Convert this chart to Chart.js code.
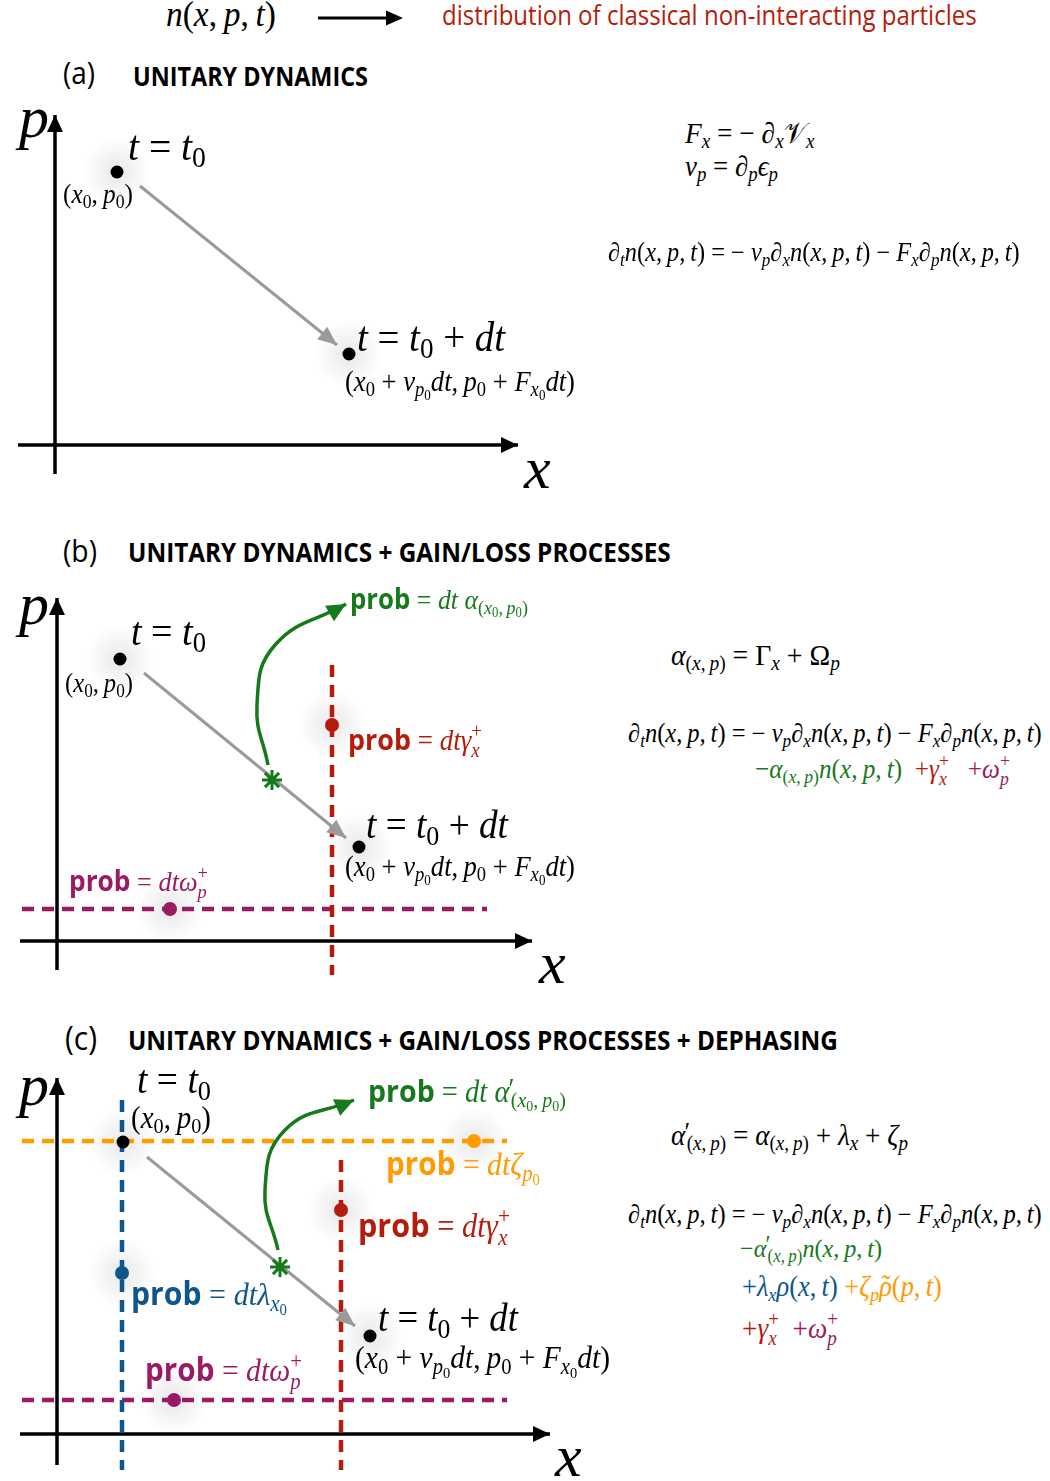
<!DOCTYPE html>
<html><head><meta charset="utf-8">
<script src="https://cdn.jsdelivr.net/npm/chart.js@4.4.0/dist/chart.umd.min.js"></script>
<style>
html,body{margin:0;padding:0;background:#fff;width:1050px;height:1481px;overflow:hidden}
#page{position:relative;width:1050px;height:1481px}
canvas{position:absolute;left:0}
.lbl{position:absolute;white-space:nowrap;line-height:1;color:#000;transform-origin:0 0}
.m{font-family:'Liberation Serif','DejaVu Serif',serif}
.m i{font-style:italic}
.s{font-family:'Open Sans','Noto Sans',sans-serif;font-style:normal}
.b{font-weight:700}
sub,sup{font-size:0.7em;line-height:0}
sub{vertical-align:-0.25em}
sup{vertical-align:0.45em}
.ss{display:inline-block;font-size:0.7em;line-height:0.95;vertical-align:-0.35em}
.ss>span{display:block}
.acc{position:relative;display:inline-block}
.acc>.tl{position:absolute;left:0.1em;top:-0.02em;font-style:normal}
.acc>.pm{position:absolute;left:0.52em;top:-0.12em;font-style:normal;font-size:0.95em}
.pmw{padding-right:0.05em}
</style></head>
<body><div id="page">
<svg style="position:absolute;left:0;top:0" width="1050" height="40"><line x1="318" y1="18" x2="390" y2="18" stroke="#000" stroke-width="3"/><polygon points="403,18 386,10.5 386,25.5" fill="#000"/></svg>
<canvas id="ca" width="620" height="400" style="top:100px"></canvas>
<canvas id="cb" width="620" height="400" style="top:585px"></canvas>
<canvas id="cc" width="620" height="416" style="top:1065px"></canvas>
</div>
<script>
// ---------- colours ----------
const BLACK='#000000', GRAY='#9a9a9a', GREEN='#16791a', RED='#b51c0b', PURPLE='#9a1a63', BLUE='#0f568a', ORANGE='#ff9a00';

// ---------- panel (a) data: phase-space coordinates (x, p) ----------
const a_xAxis = [{x:-37,y:0},{x:463,y:0}];
const a_pAxis = [{x:0,y:-29},{x:0,y:330}];
const a_start = [{x:62,y:273}];
const a_end   = [{x:294,y:91}];
const a_flow  = [{x:85,y:259},{x:282,y:100}];

// ---------- panel (b) data ----------
const b_xAxis = [{x:-37,y:0},{x:475,y:0}];
const b_pAxis = [{x:0,y:-29},{x:0,y:343}];
const b_start = [{x:63,y:282}];
const b_end   = [{x:302,y:94}];
const b_flow  = [{x:87,y:268},{x:289,y:103}];
const b_gammaLine = [{x:275,y:276},{x:275,y:-34}];
const b_gammaPt   = [{x:275,y:216}];
const b_omegaLine = [{x:-35,y:32},{x:430,y:32}];
const b_omegaPt   = [{x:113,y:32}];
const b_lossPt    = [{x:215,y:161}];
const b_lossPath  = [{x:211,y:176},{x:200,y:236},{x:218,y:296},{x:289,y:337}];

// ---------- panel (c) data ----------
const c_xAxis = [{x:-37,y:0},{x:493,y:0}];
const c_pAxis = [{x:0,y:-31},{x:0,y:356}];
const c_start = [{x:66,y:292}];
const c_end   = [{x:313,y:98}];
const c_flow  = [{x:90,y:277},{x:298,y:108}];
const c_zetaLine   = [{x:-35,y:293},{x:450,y:293}];
const c_zetaPt     = [{x:417,y:293}];
const c_lambdaLine = [{x:65,y:334},{x:65,y:-36}];
const c_lambdaPt   = [{x:65,y:161}];
const c_gammaLine  = [{x:284,y:274},{x:284,y:-36}];
const c_gammaPt    = [{x:284,y:224}];
const c_omegaLine  = [{x:-35,y:34},{x:450,y:34}];
const c_omegaPt    = [{x:117,y:34}];
const c_lossPt     = [{x:223,y:167}];
const c_lossPath   = [{x:221,y:184},{x:208,y:244},{x:228,y:304},{x:297,y:334}];

// ---------- chart builders ----------
const arrowPlugin = {
  id:'arrowHeads',
  beforeDatasetsDraw(chart){
    const ctx=chart.ctx;
    chart.data.datasets.forEach((ds,i)=>{
      if(!ds.glow) return;
      chart.getDatasetMeta(i).data.forEach(pt=>{
        const g=ctx.createRadialGradient(pt.x,pt.y,0,pt.x,pt.y,34);
        g.addColorStop(0,'rgba(0,0,0,0.09)');
        g.addColorStop(1,'rgba(0,0,0,0)');
        ctx.save();ctx.fillStyle=g;ctx.beginPath();ctx.arc(pt.x,pt.y,34,0,Math.PI*2);ctx.fill();ctx.restore();
      });
    });
  },
  afterDatasetDraw(chart,args){
    const ds=chart.data.datasets[args.index];
    if(!ds.arrowHead) return;
    const pts=args.meta.data, last=pts[pts.length-1];
    let px,py;
    if(ds.tension && last.cp1x!==undefined && (last.cp1x!==last.x||last.cp1y!==last.y)){px=last.cp1x;py=last.cp1y;}
    else {const prev=pts[pts.length-2];px=prev.x;py=prev.y;}
    const ang=Math.atan2(last.y-py,last.x-px);
    const [L,W]=ds.arrowHead;
    const ctx=chart.ctx;
    const bx=last.x-L*Math.cos(ang), by=last.y-L*Math.sin(ang);
    const nx=-Math.sin(ang)*W, ny=Math.cos(ang)*W;
    ctx.save();ctx.fillStyle=ds.borderColor;ctx.beginPath();
    ctx.moveTo(last.x,last.y);ctx.lineTo(bx+nx,by+ny);ctx.lineTo(bx-nx,by-ny);ctx.closePath();ctx.fill();ctx.restore();
  }
};

function line(data,color,width,order,extra){
  return Object.assign({data,borderColor:color,backgroundColor:color,borderWidth:width,showLine:true,pointRadius:0,order,clip:false,borderCapStyle:'butt'},extra||{});
}
function dots(data,color,r,order,extra){
  return Object.assign({data,borderColor:color,backgroundColor:color,pointRadius:r,pointBorderWidth:0,showLine:false,order,clip:false,glow:true},extra||{});
}
function panel(id,xr,yr,datasets){
  new Chart(document.getElementById(id),{
    type:'scatter',
    data:{datasets},
    options:{
      responsive:false,animation:false,devicePixelRatio:1,events:[],
      layout:{padding:0,autoPadding:false},
      plugins:{legend:{display:false},tooltip:{enabled:false}},
      scales:{
        x:{type:'linear',min:xr[0],max:xr[1],display:false},
        y:{type:'linear',min:yr[0],max:yr[1],display:false}
      }
    },
    plugins:[arrowPlugin]
  });
}
const DASH=[12,8], DW=4.5;
panel('ca',[-55,565],[-55,345],[
  dots(a_start,BLACK,6.5,0),
  dots(a_end,BLACK,6.5,0),
  line(a_flow,GRAY,3,3,{arrowHead:[19,8]}),
  line(a_xAxis,BLACK,3.5,5,{arrowHead:[17,8]}),
  line(a_pAxis,BLACK,3.5,5,{arrowHead:[17,8]})
]);
panel('cb',[-57,563],[-44,356],[
  dots(b_start,BLACK,6.5,0),
  dots(b_end,BLACK,6.5,0),
  dots(b_gammaPt,RED,7,0),
  dots(b_omegaPt,PURPLE,7,0),
  dots(b_lossPt,GREEN,10,1,{pointStyle:'star',pointBorderWidth:3,glow:false}),
  line(b_lossPath,GREEN,3.5,2,{tension:0.45,arrowHead:[19,9]}),
  line(b_flow,GRAY,3,3,{arrowHead:[19,8]}),
  line(b_gammaLine,RED,DW,4,{borderDash:DASH}),
  line(b_omegaLine,PURPLE,DW,4,{borderDash:DASH}),
  line(b_xAxis,BLACK,3.5,5,{arrowHead:[17,8]}),
  line(b_pAxis,BLACK,3.5,5,{arrowHead:[17,8]})
]);
panel('cc',[-57,563],[-47,369],[
  dots(c_start,BLACK,6.5,0),
  dots(c_end,BLACK,6.5,0),
  dots(c_zetaPt,ORANGE,7,0),
  dots(c_lambdaPt,BLUE,7,0),
  dots(c_gammaPt,RED,7,0),
  dots(c_omegaPt,PURPLE,7,0),
  dots(c_lossPt,GREEN,10,1,{pointStyle:'star',pointBorderWidth:3,glow:false}),
  line(c_lossPath,GREEN,3.5,2,{tension:0.45,arrowHead:[19,9]}),
  line(c_flow,GRAY,3,3,{arrowHead:[19,8]}),
  line(c_zetaLine,ORANGE,DW,4,{borderDash:DASH}),
  line(c_lambdaLine,BLUE,DW,4,{borderDash:DASH}),
  line(c_gammaLine,RED,DW,4,{borderDash:DASH}),
  line(c_omegaLine,PURPLE,DW,4,{borderDash:DASH}),
  line(c_xAxis,BLACK,3.5,5,{arrowHead:[17,8]}),
  line(c_pAxis,BLACK,3.5,5,{arrowHead:[17,8]})
]);

// ---------- text ----------
const I=s=>`<i>${s}</i>`, sb=s=>`<sub>${s}</sub>`;
const SS=(up,dn)=>`<span class="ss"><span>${up}</span><span>${dn}</span></span>`;
const C=(col,s)=>`<span style="color:${col}">${s}</span>`;
const nxpt=`${I('n')}(${I('x')},&thinsp;${I('p')},&thinsp;${I('t')})`;
const x0p0=`(${I('x')}${sb('0')},&thinsp;${I('p')}${sb('0')})`;
const endpt=`(${I('x')}${sb('0')} + ${I('v')}${sb(I('p')+sb('0'))}${I('dt')},&thinsp;${I('p')}${sb('0')} + ${I('F')}${sb(I('x')+sb('0'))}${I('dt')})`;
const tt0=`${I('t')} = ${I('t')}${sb('0')}`;
const tt0dt=`${I('t')} = ${I('t')}${sb('0')} + ${I('dt')}`;
const mainEq=`${I('∂')}${sb(I('t'))}${nxpt} = − ${I('v')}${sb(I('p'))}${I('∂')}${sb(I('x'))}${nxpt} − ${I('F')}${sb(I('x'))}${I('∂')}${sb(I('p'))}${nxpt}`;
const PROB='<span class="s b">prob</span>';
const ALPHAP=`<span class="acc pmw"><i>α</i><span class="pm">′</span></span>`;
const axp=`${I('α')}${sb('('+I('x')+',&thinsp;'+I('p')+')')}`;
const axpP=`${ALPHAP}${sb('('+I('x')+',&thinsp;'+I('p')+')')}`;
const gam=`${I('γ')}${SS('+',I('x'))}`, omg=`${I('ω')}${SS('+',I('p'))}`;
const rhoT=`<span class="acc"><i>ρ</i><span class="tl">˜</span></span>`;

const SQ=0.9, MQ=0.93;   // horizontal compression for sans / math labels
const labels=[
 {x:166,base:26,w:110,html:nxpt},
 {x:442,base:25,w:535,cls:'s',color:RED,html:'distribution of classical non-interacting particles'},
 {x:63,base:84,w:32,cls:'s',html:'(a)'},
 {x:133,base:86,w:235,cls:'s b',html:'UNITARY DYNAMICS'},
 {x:63,base:562,w:34,cls:'s',html:'(b)'},
 {x:128,base:562,w:543,cls:'s b',html:'UNITARY DYNAMICS + GAIN/LOSS PROCESSES'},
 {x:65,base:1050,w:32,cls:'s',html:'(c)'},
 {x:128,base:1050,w:710,cls:'s b',html:'UNITARY DYNAMICS + GAIN/LOSS PROCESSES + DEPHASING'},
 // panel a
 {x:19,base:137,fs:60,html:I('p')},
 {x:524,base:488,fs:60,html:I('x')},
 {x:128,base:160,w:78,html:tt0},
 {x:63,base:203,w:70,html:x0p0},
 {x:357,base:351,w:148,html:tt0dt},
 {x:345,base:391,w:230,html:endpt},
 {x:685,base:143,w:130,html:`${I('F')}${sb(I('x'))} = − ${I('∂')}${sb(I('x'))}𝒱${sb(I('x'))}`},
 {x:685,base:176,w:93,html:`${I('v')}${sb(I('p'))} = ${I('∂')}${sb(I('p'))}${I('ϵ')}${sb(I('p'))}`},
 {x:608,base:261,w:412,html:mainEq},
 // panel b
 {x:19,base:624,fs:60,html:I('p')},
 {x:539,base:983,fs:60,html:I('x')},
 {x:131,base:645,w:75,html:tt0},
 {x:65,base:692,w:68,html:x0p0},
 {x:350,base:609,w:178,color:GREEN,html:`${PROB} = ${I('dt')} ${I('α')}${sb('('+I('x')+sb('0')+',&thinsp;'+I('p')+sb('0')+')')}`},
 {x:348,base:750,w:134,color:RED,html:`${PROB} = ${I('dt')}${gam}`},
 {x:366,base:838,w:142,html:tt0dt},
 {x:345,base:876,w:230,html:endpt},
 {x:69,base:891,w:139,color:PURPLE,html:`${PROB} = ${I('dt')}${omg}`},
 {x:671,base:665,w:169,html:`${axp} = Γ${sb(I('x'))} + Ω${sb(I('p'))}`},
 {x:628,base:742,w:414,html:mainEq},
 {x:755,base:778,w:255,html:`${C(GREEN,'−'+axp+nxpt)}&nbsp; ${C(RED,'+'+gam)}&nbsp;&nbsp; ${C(PURPLE,'+'+omg)}`},
 // panel c
 {x:19,base:1105,fs:60,html:I('p')},
 {x:555,base:1476,fs:60,html:I('x')},
 {x:137,base:1093,w:74,html:tt0},
 {x:131,base:1128,w:80,html:x0p0},
 {x:368,base:1102,w:198,color:GREEN,html:`${PROB} = ${I('dt')} ${ALPHAP}${sb('('+I('x')+sb('0')+',&thinsp;'+I('p')+sb('0')+')')}`},
 {x:386,base:1175,w:154,color:ORANGE,html:`${PROB} = ${I('dt')}${I('ζ')}${sb(I('p')+sb('0'))}`},
 {x:358,base:1237,w:152,color:RED,html:`${PROB} = ${I('dt')}${gam}`},
 {x:131,base:1305,w:156,color:BLUE,html:`${PROB} = ${I('dt')}${I('λ')}${sb(I('x')+sb('0'))}`},
 {x:378,base:1331,w:140,html:tt0dt},
 {x:355,base:1368,w:255,html:endpt},
 {x:145,base:1381,w:157,color:PURPLE,html:`${PROB} = ${I('dt')}${omg}`},
 {x:671,base:1145,w:237,html:`${axpP} = ${axp} + ${I('λ')}${sb(I('x'))} + ${I('ζ')}${sb(I('p'))}`},
 {x:628,base:1223,w:414,html:mainEq},
 {x:740,base:1257,w:142,color:GREEN,html:`−${axpP}${nxpt}`},
 {x:742,base:1296,w:200,html:`${C(BLUE,'+'+I('λ')+sb(I('x'))+I('ρ')+'('+I('x')+',&thinsp;'+I('t')+')')} ${C(ORANGE,'+'+I('ζ')+sb(I('p'))+rhoT+'('+I('p')+',&thinsp;'+I('t')+')')}`},
 {x:742,base:1338,w:96,html:`${C(RED,'+'+gam)}&nbsp; ${C(PURPLE,'+'+omg)}`}
];
const page=document.getElementById('page');
labels.forEach(l=>{
  const d=document.createElement('div');
  const cls=l.cls||'m';
  d.className='lbl '+cls;
  d.innerHTML=l.html+'<span class="bm" style="display:inline-block;width:0;height:0"></span>';
  d.style.left=l.x+'px';d.style.top='0px';
  if(l.color) d.style.color=l.color;
  let fs=l.fs||30;d.style.fontSize=fs+'px';
  page.appendChild(d);
  if(l.w){
    const q=cls.indexOf('s')===0?SQ:MQ;
    d.style.transform=`scaleX(${q})`;
    const w=d.getBoundingClientRect().width;fs=fs*l.w/w;d.style.fontSize=fs+'px';
  }
  const by=d.querySelector('.bm').getBoundingClientRect().top-d.getBoundingClientRect().top;
  d.style.top=(l.base-by)+'px';
});
</script>
</body></html>
